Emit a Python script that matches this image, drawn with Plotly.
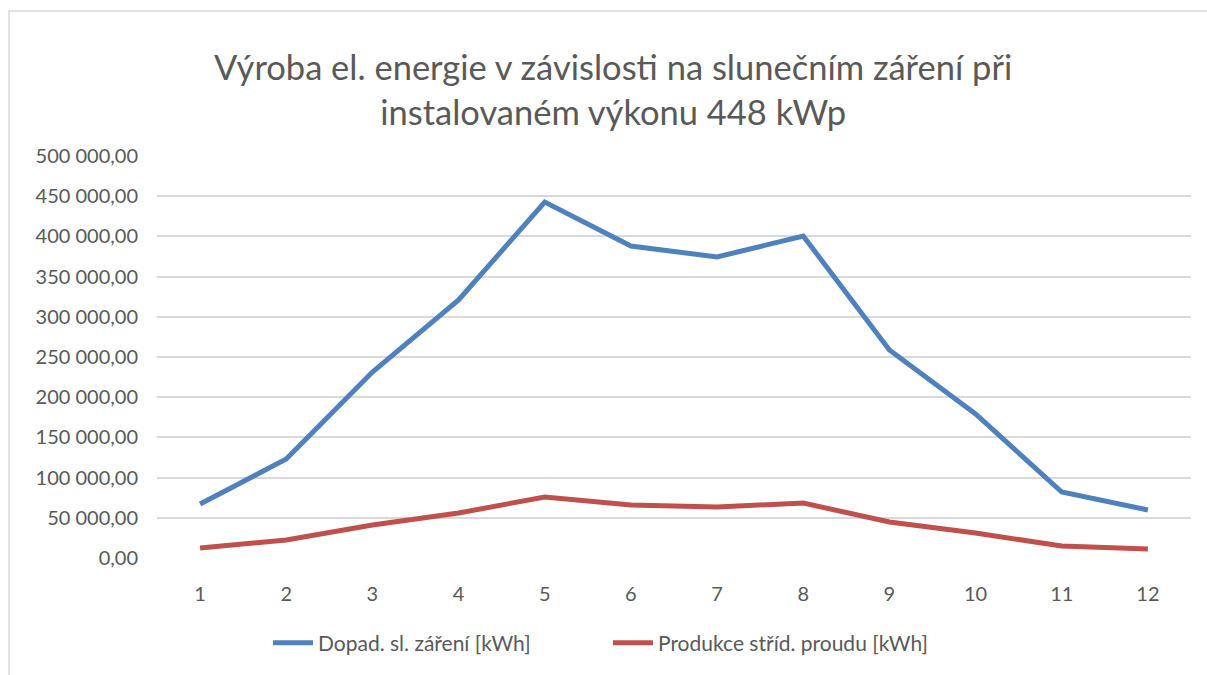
import plotly.graph_objects as go

months = [1, 2, 3, 4, 5, 6, 7, 8, 9, 10, 11, 12]
dopad = [67200, 123100, 231300, 320900, 442800, 388000, 374400, 400500, 258700, 179100, 82100, 59700]
produkce = [12400, 22400, 41000, 56000, 75900, 65900, 63400, 68400, 44800, 31100, 14900, 11200]
ytick_vals = [0, 50000, 100000, 150000, 200000, 250000, 300000, 350000, 400000, 450000, 500000]
ytick_text = ["0,00", "50 000,00", "100 000,00", "150 000,00", "200 000,00", "250 000,00",
              "300 000,00", "350 000,00", "400 000,00", "450 000,00", "500 000,00"]
xlabels = [str(m) for m in months]

W, H = 1207, 675
L, R, T, B = 157, 16, 156, 117
pw, ph = W - L - R, H - T - B

font = "Lato"
fig = go.Figure()
fig.add_trace(go.Scatter(x=xlabels, y=dopad, mode="lines", name="Dopad. sl. záření [kWh]",
                         line=dict(color="#4F81BD", width=5)))
fig.add_trace(go.Scatter(x=xlabels, y=produkce, mode="lines", name="Produkce stříd. proudu [kWh]",
                         line=dict(color="#C0504D", width=5)))

def px_x(p):
    return (p - L) / pw

def px_y(p):
    return (H - B - p) / ph

fig.update_layout(
    width=W, height=H,
    margin=dict(l=L, r=R, t=T, b=B),
    paper_bgcolor="white", plot_bgcolor="white",
    font=dict(family=font, color="#595959", size=20),
    title=dict(text="Výroba el. energie v závislosti na slunečním záření při<br>instalovaném výkonu 448 kWp",
               x=0.508, xanchor="center", y=1 - 80 / H, yanchor="middle",
               font=dict(family=font, size=34.5, color="#595959")),
    xaxis=dict(type="category", range=[-0.5, 11.5], showgrid=False, zeroline=False,
               showline=False, ticks="outside", ticklen=18, tickcolor="rgba(0,0,0,0)",
               tickfont=dict(size=20, color="#595959")),
    yaxis=dict(range=[0, 500000], tickvals=ytick_vals, ticktext=ytick_text,
               showgrid=True, gridcolor="#D9D9D9", gridwidth=1.5, zeroline=False,
               showline=False, ticks="outside", ticklen=14, tickcolor="rgba(0,0,0,0)",
               tickfont=dict(size=20, color="#595959")),
    legend=dict(orientation="h", x=px_x(268), xanchor="left", y=px_y(643), yanchor="middle",
                font=dict(size=21, color="#595959"), itemwidth=40, tracegroupgap=0,
                entrywidth=285, entrywidthmode="pixels"),
    showlegend=True,
    shapes=[dict(type="rect", xref="paper", yref="paper",
                 x0=px_x(9), x1=px_x(1215), y0=px_y(690), y1=px_y(11),
                 line=dict(color="#D9D9D9", width=1.5), fillcolor="rgba(0,0,0,0)", layer="below")],
)

fig.write_html("out.html", post_script="document.body.style.margin='0';",
               config={"displayModeBar": False})
